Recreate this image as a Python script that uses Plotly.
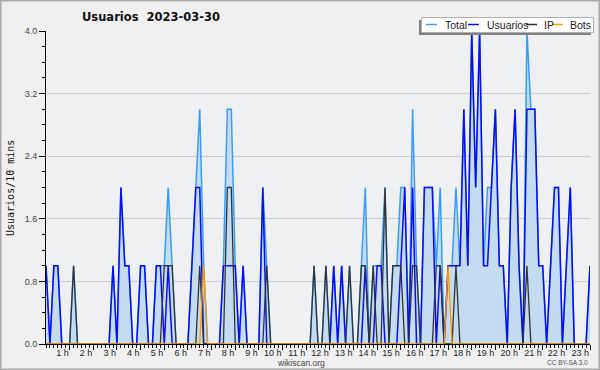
import plotly.graph_objects as go

# 10-minute slots (index 0 = 00:00)
slots = list(range(139))

usuarios = [1,0,1,1,0,0,0,0,0,0, 0,0,0,0,0,0,0,1,0,2,
            1,1,0,0,1,1,0,0,1,1, 0,1,0,0,0,0,0,1,2,2,
            0,0,0,0,0,1,1,1,1,0, 1,0,0,0,0,2,0,0,0,0,
            0,0,0,0,0,0,0,0,0,0, 0,0,0,1,0,1,0,0,0,0,
            0,1,0,0,1,1,0,0,0,0, 1,2,0,2,0,0,2,2,2,0,
            1,0,1,1,1,1,3,1,4,2, 4,1,1,2,3,1,1,0,2,3,
            1,0,3,3,3,1,1,0,1,2, 2,0,1,2,0,0,0,0,1]
ip       = [0,0,0,0,0,0,0,1,0,0, 0,0,0,0,0,0,0,0,0,0,
            0,0,0,0,0,0,0,0,0,0, 1,1,1,0,0,0,0,0,0,1,
            0,0,0,0,0,0,2,2,0,0, 0,0,0,0,0,0,1,0,0,0,
            0,0,0,0,0,0,0,0,1,0, 0,1,0,0,0,0,0,1,0,0,
            1,1,0,1,0,0,2,0,1,1, 1,0,0,1,1,0,0,0,0,1,
            1,0,0,0,1,0,0,0,0,0, 0,0,0,0,0,0,0,0,0,0,
            0,0,1,0,0,0,0,0,0,0, 0,0,0,0,0,0,0,0,0]
bots     = [0,0,0,0,0,0,0,0,0,0, 0,0,0,0,0,0,0,0,0,0,
            0,0,0,0,0,0,0,0,0,0, 0,0,0,0,0,0,0,0,0,0,
            1,0,0,0,0,0,0,0,0,0, 0,0,0,0,0,0,0,0,0,0,
            0,0,0,0,0,0,0,0,0,0, 0,0,0,0,0,0,0,0,0,0,
            0,0,0,0,0,0,0,0,0,0, 0,0,0,0,0,0,0,0,0,0,
            0,0,1,0,0,0,0,0,0,0, 0,0,0,0,0,0,0,0,0,0,
            0,0,0,0,0,0,0,0,0,0, 0,0,0,0,0,0,0,0,0]
total    = [1,0,1,1,0,0,0,1,0,0, 0,0,0,0,0,0,0,1,0,2,
            1,1,0,0,1,1,0,0,1,1, 1,2,1,0,0,0,0,1,2,3,
            1,0,0,0,0,1,3,3,1,0, 1,0,0,0,0,2,1,0,0,0,
            0,0,0,0,0,0,0,0,1,0, 0,1,0,1,0,1,0,1,0,0,
            1,2,0,1,1,1,2,0,1,1, 2,2,0,3,1,0,2,2,2,1,
            2,0,1,1,2,1,3,1,4,2, 4,1,2,2,3,1,1,0,2,3,
            1,0,4,3,3,1,1,0,1,2, 2,0,1,2,0,0,0,0,1]

hour_ticks = [6 * h for h in range(1, 24)]
hour_labels = [f"{h} h" for h in range(1, 24)]
y_ticks = [0, 0.8, 1.6, 2.4, 3.2, 4.0]
y_labels = ["0.0", "0.8", "1.6", "2.4", "3.2", "4.0"]

C_TOTAL = "#3d9df5"
C_USR = "#0c0cf5"
C_IP = "#333333"
C_BOTS = "#ff9a00"

fig = go.Figure()
fig.add_trace(go.Scatter(x=slots, y=total, mode="lines", name="Total",
                         line=dict(color=C_TOTAL, width=1.5),
                         fill="tozeroy", fillcolor="#c5dcf0"))
fig.add_trace(go.Scatter(x=slots, y=usuarios, mode="lines", name="Usuarios",
                         line=dict(color=C_USR, width=1.5)))
fig.add_trace(go.Scatter(x=slots, y=ip, mode="lines", name="IP",
                         line=dict(color=C_IP, width=1.3)))
fig.add_trace(go.Scatter(x=slots, y=bots, mode="lines", name="Bots",
                         line=dict(color=C_BOTS, width=1.3)))

W, H = 600, 370
L, R, T, B = 46, 10, 31, 26
PW, PH = W - L - R, H - T - B
def px(x): return (x - L) / PW          # pixel -> paper (plot-area relative)
def py(y): return (H - B - y) / PH

shapes = [
    dict(type="rect", xref="paper", yref="paper", x0=px(0.5), x1=px(599.5),
         y0=py(0.5), y1=py(369.5), line=dict(color="#aaaaaa", width=2), layer="above"),
    # legend shadow + box
    dict(type="rect", xref="paper", yref="paper", x0=px(419), x1=px(591),
         y0=py(20), y1=py(35), fillcolor="#808080", line=dict(width=0), layer="above"),
    dict(type="rect", xref="paper", yref="paper", x0=px(421.5), x1=px(593.5),
         y0=py(17.5), y1=py(32.5), fillcolor="#ffffff",
         line=dict(color="#b0b0b0", width=1), layer="above"),
]
legend_items = [("Total", C_TOTAL, 426, 443), ("Usuarios", C_USR, 468, 484.5),
                ("IP", C_IP, 526, 541.5), ("Bots", C_BOTS, 552, 568)]
annotations = []
for name, col, lx, tx in legend_items:
    shapes.append(dict(type="line", xref="paper", yref="paper", x0=px(lx), x1=px(lx + 11),
                       y0=py(24.5), y1=py(24.5), line=dict(color=col, width=1.5), layer="above"))
    annotations.append(dict(text=name, xref="paper", yref="paper", x=px(tx), y=py(24.8),
                            xanchor="left", yanchor="middle", showarrow=False,
                            font=dict(family="Liberation Sans", size=10.5, color="#222222")))

annotations += [
    dict(text="<b>Usuarios  2023-03-30</b>", xref="paper", yref="paper", x=px(151), y=py(17),
         xanchor="center", yanchor="middle", showarrow=False,
         font=dict(family="DejaVu Sans", size=11.5, color="#111111")),
    dict(text="wikiscan.org", xref="paper", yref="paper", x=px(300.5), y=py(362.5),
         xanchor="center", yanchor="middle", showarrow=False,
         font=dict(family="Liberation Sans", size=8.5, color="#444444")),
    dict(text="CC BY-SA 3.0", xref="paper", yref="paper", x=px(590), y=py(362.5),
         xanchor="right", yanchor="middle", showarrow=False,
         font=dict(family="Liberation Sans", size=6.5, color="#555555")),
    dict(text="Usuarios/10 mins", xref="paper", yref="paper", x=px(10), y=py(188),
         xanchor="center", yanchor="middle", showarrow=False, textangle=-90,
         font=dict(family="DejaVu Sans Mono", size=10, color="#111111")),
]

fig.update_layout(
    width=W, height=H, showlegend=False,
    margin=dict(l=L, r=R, t=T, b=B, pad=0, autoexpand=False),
    paper_bgcolor="#f0f0f0", plot_bgcolor="#eef0f2",
    shapes=shapes, annotations=annotations,
    xaxis=dict(range=[0, 138], tickmode="array", tickvals=hour_ticks, ticktext=hour_labels,
               ticks="outside", ticklen=5, tickcolor="black", tickwidth=1, tickangle=0,
               ticklabelposition="outside left", automargin=False,
               tickfont=dict(family="Liberation Sans", size=9, color="#222222"),
               showline=True, linecolor="black", linewidth=1, showgrid=False, zeroline=False,
               minor=dict(tickmode="linear", tick0=0, dtick=1, ticks="outside", ticklen=3,
                          tickcolor="black", showgrid=False)),
    yaxis=dict(range=[0, 4], tickmode="array", tickvals=y_ticks, ticktext=y_labels,
               ticks="outside", ticklen=6, tickcolor="black", automargin=False,
               tickfont=dict(family="Liberation Sans", size=9, color="#444444"),
               showline=True, linecolor="black", linewidth=1,
               showgrid=True, gridcolor="#cccccc", gridwidth=1, zeroline=False,
               minor=dict(tickmode="linear", tick0=0, dtick=0.2, ticks="outside", ticklen=3,
                          tickcolor="black", showgrid=False)),
)

fig.write_html("out.html", config={"displayModeBar": False},
               post_script="document.body.style.margin='0';document.body.style.padding='0';")
